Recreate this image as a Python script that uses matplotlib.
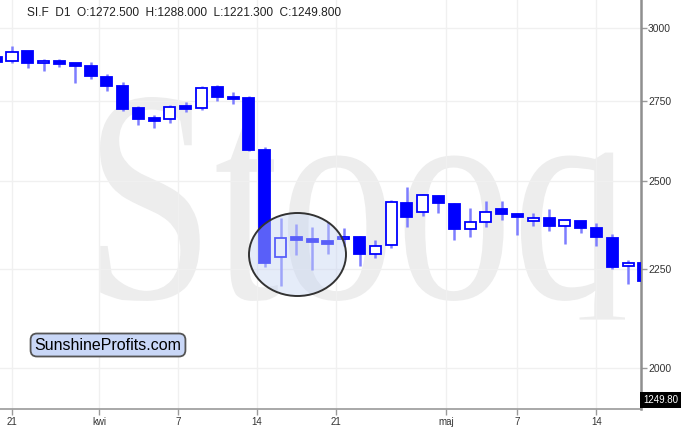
import matplotlib
matplotlib.use('Agg')
import matplotlib.pyplot as plt
import numpy as np
from matplotlib.patches import Rectangle, Ellipse, PathPatch
from matplotlib.textpath import TextPath
from matplotlib.path import Path
from matplotlib.font_manager import FontProperties
from matplotlib.transforms import Affine2D
from matplotlib.ticker import NullLocator, FixedLocator, FixedFormatter

# ---- data ----
opens = [2898.0, 2884.2, 2918.8, 2877.4, 2884.2, 2877.4, 2867.1, 2829.7, 2799.5, 2727.0,
         2694.7, 2691.5, 2733.5, 2727.0, 2796.2, 2763.0, 2759.7, 2593.8, 2283.1, 2338.2,
         2332.7, 2327.1, 2332.7, 2338.2, 2291.3, 2316.0, 2435.0, 2409.0, 2455.4, 2432.1,
         2360.6, 2380.4, 2417.6, 2403.2, 2383.3, 2391.8, 2369.1, 2383.3, 2363.5, 2335.4,
         2258.8, 2266.9]
highs = [2905.0, 2936.3, 2920.0, 2891.1, 2891.1, 2878.5, 2880.8, 2839.9, 2812.9, 2733.5,
         2704.4, 2736.8, 2746.6, 2799.5, 2802.9, 2779.6, 2766.3, 2603.1, 2391.8, 2374.8,
         2366.3, 2380.4, 2363.5, 2340.0, 2329.9, 2443.7, 2481.9, 2461.2, 2457.0, 2435.0,
         2420.5, 2440.8, 2440.8, 2406.0, 2406.1, 2417.6, 2387.0, 2384.0, 2377.6, 2346.6,
         2275.0, 2270.0]
lows = [2874.0, 2877.4, 2860.3, 2850.1, 2863.7, 2809.6, 2823.0, 2782.9, 2717.3, 2672.3,
        2662.8, 2678.7, 2714.1, 2720.6, 2749.9, 2740.1, 2590.7, 2256.1, 2205.5, 2288.6,
        2248.0, 2291.3, 2313.3, 2258.8, 2280.4, 2307.8, 2366.3, 2397.5, 2406.1, 2329.9,
        2338.2, 2366.3, 2386.1, 2343.8, 2369.1, 2355.0, 2318.8, 2349.4, 2313.3, 2250.7,
        2210.8, 2215.0]
closes = [2880.8, 2915.4, 2877.4, 2884.2, 2873.9, 2867.1, 2833.1, 2799.5, 2723.8, 2691.5,
          2685.1, 2730.3, 2723.8, 2792.9, 2763.0, 2756.5, 2593.8, 2266.9, 2335.4, 2329.9,
          2324.3, 2318.8, 2338.2, 2291.3, 2313.3, 2437.9, 2394.7, 2458.3, 2435.0, 2360.6,
          2380.4, 2409.0, 2403.2, 2394.7, 2391.8, 2369.1, 2386.1, 2363.5, 2338.2, 2256.1,
          2266.9, 2218.7]
x_tick_pos = [1, 6.5, 11.5, 16.5, 21.5, 28.5, 33, 38]
x_tick_labels = ['21', 'kwi', '7', '14', '21', 'maj', '7', '14']
y_ticks = [2000, 2250, 2500, 2750, 3000]
y_tick_labels = ['2000', '2250', '2500', '2750', '3000']
header = "SI.F  D1  O:1272.500  H:1288.000  L:1221.300  C:1249.800"
last_label = "1249.80"
brand = "SunshineProfits.com"
watermark = "Stooq"

plt.rcParams['font.family'] = ['Liberation Sans', 'DejaVu Sans']

W, H = 700, 436
fig = plt.figure(figsize=(W / 100, H / 100), dpi=100)
ax_left, ax_right, ax_top, ax_bottom = 0, 641, 0, 409
ax = fig.add_axes([ax_left / W, (H - ax_bottom) / H, (ax_right - ax_left) / W, (ax_bottom - ax_top) / H])
ax.set_yscale('log')
ax.set_ylim(1904.6, 3101.9)
ax.set_xlim(0.24, 40.82)

# watermark (stretched serif text path, shortened descender)
fp = FontProperties(family='Liberation Serif')
tp = TextPath((0, 0), watermark, prop=fp, size=1)
verts = np.array(tp.vertices, dtype=float)
verts[:, 1] = np.where(verts[:, 1] < 0, verts[:, 1] * 0.3, verts[:, 1])
tp2 = Path(verts, tp.codes)
ext = tp2.get_extents()
tx0, tx1, ttop, tbase = 100, 625, 97, 300  # pixel box (image coords)
sx = (tx1 - tx0) / ext.width
sy = (tbase - ttop) / ext.y1
tr = Affine2D().translate(-ext.x0, 0).scale(sx / 100, sy / 100).translate(tx0 / 100, (H - tbase) / 100)
wm = PathPatch(tp2, transform=tr + fig.dpi_scale_trans, fc='#ededed', ec='none', zorder=0.5)
ax.add_artist(wm)
wm.set_clip_path(ax.patch)

# grid
ax.grid(True, color='#f0f0f0', lw=1, zorder=0)
ax.set_axisbelow(True)

# candles
blue = '#0000ff'
wick_c = '#7d7dff'
bw = 0.70
for i in range(len(opens)):
    o, h, l, c = opens[i], highs[i], lows[i], closes[i]
    ax.vlines(i, l, h, color=wick_c, lw=1.8, zorder=2)
    up = c >= o
    ax.add_patch(Rectangle((i - bw / 2, min(o, c)), bw, abs(c - o),
                           fc='white' if up else blue, ec=blue, lw=1.3, zorder=3))

# axes styling
for s in ['left', 'top']:
    ax.spines[s].set_visible(False)
ax.spines['right'].set_color('#8f8f8f')
ax.spines['right'].set_linewidth(1.8)
ax.spines['bottom'].set_color('#9a9a9a')
ax.spines['bottom'].set_linewidth(1.2)
ax.yaxis.tick_right()
ax.yaxis.set_major_locator(FixedLocator(y_ticks))
ax.yaxis.set_major_formatter(FixedFormatter(y_tick_labels))
ax.yaxis.set_minor_locator(NullLocator())
ax.xaxis.set_major_locator(FixedLocator(x_tick_pos))
ax.xaxis.set_major_formatter(FixedFormatter(x_tick_labels))
ax.tick_params(axis='both', direction='out', length=4, width=1, color='#9a9a9a',
               labelsize=7.5, labelcolor='#333333')
ax.tick_params(axis='y', pad=1)
ax.tick_params(axis='x', pad=2, labelsize=7)

# circle annotation
ax.add_patch(Ellipse((297.5 / 641, 1 - 254.5 / 409), 97 / 641, 83 / 409, transform=ax.transAxes,
                     fc=(0.78, 0.835, 0.953, 0.45), ec='#333333', lw=1.4, zorder=6))

# header
fig.text(27 / W, (H - 13) / H, header, fontsize=8.6, color='#222222', va='center', ha='left')

# last value label
fig.text(643 / W, (H - 400) / H, last_label, fontsize=7, color='white', va='center', ha='left',
         bbox=dict(boxstyle='square,pad=0.3', fc='black', ec='none'))

# brand box
fig.text(108 / W, (H - 345) / H, brand, fontsize=11.5, color='black', va='center', ha='center',
         bbox=dict(boxstyle='round,pad=0.25,rounding_size=0.4', fc='#c9d7f7', ec='#555555', lw=1.3))

fig.savefig('out.png', dpi=100)
